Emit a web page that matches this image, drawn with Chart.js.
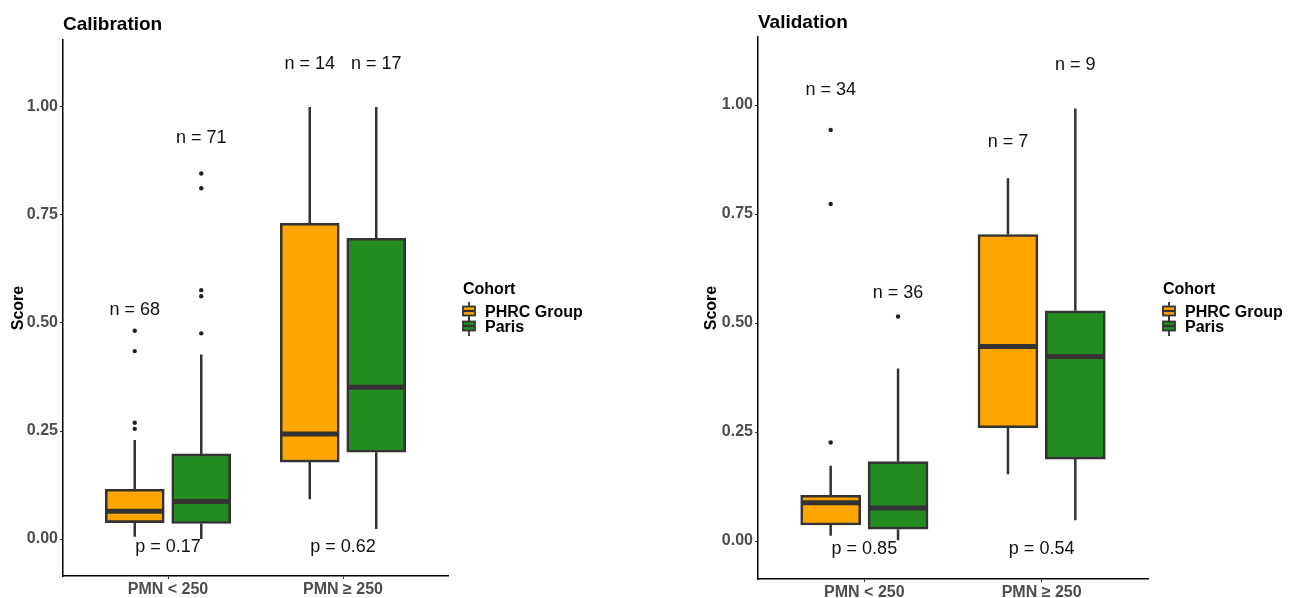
<!DOCTYPE html>
<html><head><meta charset="utf-8">
<script src="https://cdn.jsdelivr.net/npm/chart.js@4.4.1/dist/chart.umd.min.js"></script>
<style>
body{margin:0;background:#fff;width:1296px;height:598px;overflow:hidden;position:relative}
canvas{position:absolute;top:0}
</style></head><body>
<canvas id="c1" width="648" height="598" style="left:0"></canvas>
<canvas id="c2" width="648" height="598" style="left:648px"></canvas>
<script>
// ---------- data ----------
const categories = ['PMN < 250', 'PMN \u2265 250'];
const cohorts = ['PHRC Group', 'Paris'];
const cohortColors = ['#FFA500', '#228B22'];
const yTicks = [0, 0.25, 0.5, 0.75, 1.0];
const yTickLabels = ['0.00', '0.25', '0.50', '0.75', '1.00'];

// each box: [lower whisker, q1, median, q3, upper whisker], one per category
const calPHRC = [[0.005, 0.038, 0.064, 0.115, 0.229], [0.092, 0.178, 0.243, 0.731, 1.0]];
const calParis = [[0.0, 0.036, 0.087, 0.197, 0.427], [0.023, 0.201, 0.351, 0.696, 1.0]];
const calPHRCOut = [[0.482, 0.435, 0.269, 0.255], []];
const calParisOut = [[0.846, 0.812, 0.576, 0.562, 0.476], []];
const calPHRCn = [68, 14];
const calParisn = [71, 17];
const calPHRCnY = [0.530, 1.099];
const calParisnY = [0.928, 1.099];
const calP = ['0.17', '0.62'];

const valPHRC = [[0.012, 0.037, 0.088, 0.105, 0.173], [0.153, 0.260, 0.446, 0.703, 0.832]];
const valParis = [[0.002, 0.027, 0.076, 0.182, 0.396], [0.048, 0.188, 0.423, 0.528, 0.992]];
const valPHRCOut = [[0.943, 0.773, 0.226], []];
const valParisOut = [[0.515], []];
const valPHRCn = [34, 7];
const valParisn = [36, 9];
const valPHRCnY = [1.034, 0.916];
const valParisnY = [0.569, 1.092];
const valP = ['0.85', '0.54'];
const pLabelY = -0.018;

// ---------- layout / style ----------
const FONT = "'Liberation Sans', Arial, sans-serif";
const DODGE = 0.19;
const offsets = [-DODGE, DODGE];
const INK = '#333333';

function makeChart(canvasId, title, boxes, outs, ns, nYs, pvals, cfg) {
  const datasets = [];
  boxes.forEach((b, ci) => {
    datasets.push({
      type: 'bar', label: cohorts[ci],
      data: b.map((s, i) => ({ x: i + 1 + offsets[ci], y: [s[1], s[3]] })),
      stats: b,
      backgroundColor: cohortColors[ci], borderColor: INK, borderWidth: 2.6,
      borderSkipped: false, barThickness: cfg.boxW, grouped: false, order: 2
    });
  });
  outs.forEach((o, ci) => {
    const pts = [];
    o.forEach((arr, i) => arr.forEach(v => pts.push({ x: i + 1 + offsets[ci], y: v })));
    datasets.push({
      type: 'scatter', label: cohorts[ci] + ' outliers', data: pts,
      pointRadius: 2.2, pointBackgroundColor: '#222', pointBorderWidth: 0, order: 1
    });
  });

  const boxPlugin = {
    id: 'boxparts',
    beforeDatasetsDraw(chart) {
      const ctx = chart.ctx, y = chart.scales.y;
      ctx.save();
      ctx.strokeStyle = INK; ctx.lineWidth = 2.5;
      chart.data.datasets.forEach((ds, di) => {
        if (ds.type !== 'bar') return;
        chart.getDatasetMeta(di).data.forEach((el, i) => {
          const s = ds.stats[i];
          ctx.beginPath();
          ctx.moveTo(el.x, y.getPixelForValue(s[0])); ctx.lineTo(el.x, y.getPixelForValue(s[1]));
          ctx.moveTo(el.x, y.getPixelForValue(s[3])); ctx.lineTo(el.x, y.getPixelForValue(s[4]));
          ctx.stroke();
        });
      });
      ctx.restore();
    },
    afterDatasetsDraw(chart) {
      const ctx = chart.ctx, y = chart.scales.y;
      ctx.save();
      ctx.strokeStyle = INK; ctx.lineWidth = 5;
      chart.data.datasets.forEach((ds, di) => {
        if (ds.type !== 'bar') return;
        chart.getDatasetMeta(di).data.forEach((el, i) => {
          const py = y.getPixelForValue(ds.stats[i][2]);
          ctx.beginPath();
          ctx.moveTo(el.x - el.width / 2 + 1, py); ctx.lineTo(el.x + el.width / 2 - 1, py);
          ctx.stroke();
        });
      });
      ctx.restore();
    },
    afterDraw(chart) {
      const ctx = chart.ctx, x = chart.scales.x, y = chart.scales.y, ca = chart.chartArea;
      ctx.save();
      // annotations
      ctx.fillStyle = '#111'; ctx.font = '18px ' + FONT;
      ctx.textAlign = 'center'; ctx.textBaseline = 'middle';
      ns.forEach((arr, ci) => arr.forEach((n, i) => {
        ctx.fillText('n = ' + n, x.getPixelForValue(i + 1 + offsets[ci]), y.getPixelForValue(nYs[ci][i]));
      }));
      pvals.forEach((p, i) => {
        ctx.fillText('p = ' + p, x.getPixelForValue(i + 1), y.getPixelForValue(pLabelY));
      });
      // title
      ctx.fillStyle = '#000'; ctx.font = 'bold 19px ' + FONT; ctx.textAlign = 'left';
      ctx.fillText(title, ca.left, cfg.titleY);
      // legend
      const lx = ca.right + 15;
      ctx.font = 'bold 16px ' + FONT;
      ctx.fillText('Cohort', lx, 290);
      const rows = [313, 328];
      cohorts.forEach((c, ci) => {
        const ry = rows[ci], kx = ca.right + 21;
        ctx.strokeStyle = INK; ctx.lineWidth = 1.8;
        ctx.beginPath(); ctx.moveTo(kx, ry - 11); ctx.lineTo(kx, ry + 8); ctx.stroke();
        ctx.fillStyle = cohortColors[ci];
        ctx.fillRect(kx - 6, ry - 6.5, 12, 9);
        ctx.strokeRect(kx - 6, ry - 6.5, 12, 9);
        ctx.lineWidth = 2.2;
        ctx.beginPath(); ctx.moveTo(kx - 6, ry - 2); ctx.lineTo(kx + 6, ry - 2); ctx.stroke();
        ctx.fillStyle = '#000';
        ctx.fillText(c, ca.right + 37, ry);
      });
      ctx.restore();
    }
  };

  return new Chart(document.getElementById(canvasId), {
    type: 'bar',
    data: { datasets },
    plugins: [boxPlugin],
    options: {
      responsive: false, animation: false,
      layout: { padding: cfg.padding },
      plugins: { legend: { display: false }, tooltip: { enabled: false }, title: { display: false } },
      scales: {
        x: {
          type: 'linear', min: 0.4, max: 2.6, offset: false,
          afterBuildTicks: s => { s.ticks = categories.map((c, i) => ({ value: i + 1 })); },
          ticks: { callback: v => categories[v - 1], font: { family: FONT, weight: 'bold', size: 16 }, color: '#4d4d4d', padding: 1, maxRotation: 0 },
          grid: { drawOnChartArea: false, offset: false, tickLength: 3, color: INK },
          border: { color: '#000', width: 1.5 },
          afterFit: s => { s.height = cfg.xH; }
        },
        y: {
          min: cfg.yMin, max: cfg.yMax,
          afterBuildTicks: s => { s.ticks = yTicks.map(v => ({ value: v })); },
          ticks: { callback: v => yTickLabels[yTicks.indexOf(v)], font: { family: FONT, weight: 'bold', size: 16 }, color: '#4d4d4d', padding: 2 },
          grid: { drawOnChartArea: false, tickLength: 3, color: INK },
          border: { color: '#000', width: 1.5 },
          title: { display: true, text: 'Score', font: { family: FONT, weight: 'bold', size: 16 }, color: '#000', padding: { top: 9, bottom: 0 } },
          afterFit: s => { s.width = cfg.yW; }
        }
      }
    }
  });
}

makeChart('c1', 'Calibration', [calPHRC, calParis], [calPHRCOut, calParisOut],
  [calPHRCn, calParisn], [calPHRCnY, calParisnY], calP,
  { boxW: 59, padding: { top: 40, right: 200, bottom: 0, left: 0 }, xH: 22, yW: 63, yMin: -0.0856, yMax: 1.155, titleY: 25 });
makeChart('c2', 'Validation', [valPHRC, valParis], [valPHRCOut, valParisOut],
  [valPHRCn, valParisn], [valPHRCnY, valParisnY], valP,
  { boxW: 60, padding: { top: 37, right: 148, bottom: 0, left: 45 }, xH: 19, yW: 65, yMin: -0.087, yMax: 1.156, titleY: 22.5 });
</script>
</body></html>
